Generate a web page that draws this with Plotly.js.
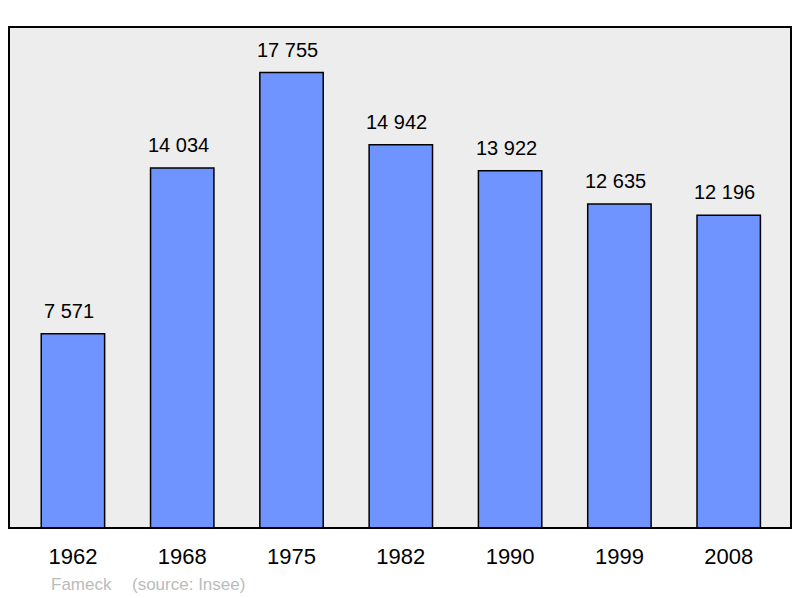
<!DOCTYPE html>
<html><head><meta charset="utf-8">
<script src="https://cdn.plot.ly/plotly-3.0.1.min.js"></script>
<style>body{margin:0;background:#fff}#c{width:800px;height:598px}</style>
</head><body><div id="c"></div>
<script>
var years = ['1962','1968','1975','1982','1990','1999','2008'];
var population = [7571, 14034, 17755, 14942, 13922, 12635, 12196];
var town = 'Fameck';
var source = '(source: Insee)';

var FONT = 'Liberation Sans, Arial, sans-serif';
var trace = {
  type: 'bar', x: years, y: population,
  width: 0.58,
  marker: {color: '#7094ff', line: {color: '#000', width: 1.5}},
  hoverinfo: 'none'
};
function fmt(v) { return String(v).replace(/\B(?=(\d{3})+(?!\d))/g, ' '); }
var ann = years.map(function (yr, i) {
  return {x: i, y: population[i], xref: 'x', yref: 'y', yanchor: 'bottom', yshift: 10, xshift: -4,
    showarrow: false, text: fmt(population[i]), font: {family: FONT, size: 20, color: '#000'}};
});
ann.push({xref: 'paper', yref: 'paper', x: (49 - 9) / 782, y: -0.112, xanchor: 'left', yanchor: 'middle',
  showarrow: false, text: town, font: {family: FONT, size: 17, color: '#bbbbbb'}});
ann.push({xref: 'paper', yref: 'paper', x: (130 - 9) / 782, y: -0.112, xanchor: 'left', yanchor: 'middle',
  showarrow: false, text: source, font: {family: FONT, size: 17, color: '#bbbbbb'}});

var layout = {
  width: 800, height: 598,
  margin: {l: 9, r: 9, t: 27, b: 70},
  paper_bgcolor: '#fff', plot_bgcolor: '#ededed',
  showlegend: false,
  xaxis: {type: 'category', range: [-0.585, 6.57], showgrid: false, zeroline: false,
    ticks: '', ticklen: 0, ticklabelstandoff: 13,
    tickfont: {family: FONT, size: 22, color: '#000'}},
  yaxis: {range: [0, 19530], showgrid: false, zeroline: false, showticklabels: false, ticks: ''},
  shapes: [{type: 'rect', xref: 'paper', yref: 'paper', x0: 0, x1: 1, y0: 0, y1: 1,
    line: {color: '#000', width: 2}}],
  annotations: ann
};
Plotly.newPlot('c', [trace], layout, {staticPlot: true});
</script></body></html>
